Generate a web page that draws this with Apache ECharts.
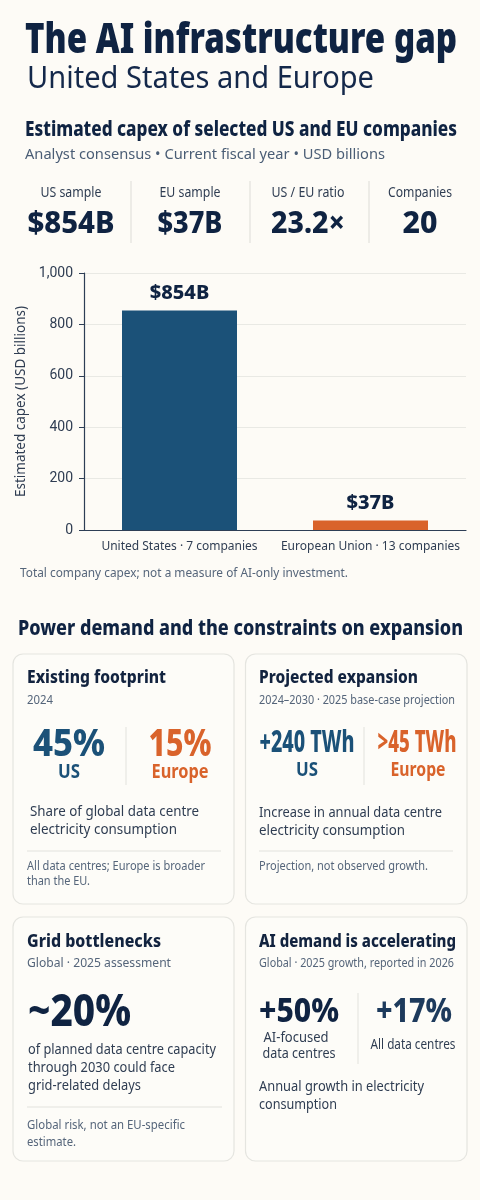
<!DOCTYPE html>
<html>
<head>
<meta charset="utf-8">
<title>The AI infrastructure gap</title>
<script src="https://cdn.jsdelivr.net/npm/echarts@6/dist/echarts.min.js"></script>
<style>
  html, body { margin: 0; padding: 0; background: #fdfbf6; }
  #chart { width: 480px; height: 1200px; }
</style>
</head>
<body>
<div id="chart"></div>
<script>
// chart data
const categories = ['United States · 7 companies', 'European Union · 13 companies'];
const capexValues = [854, 37];
const capexLabels = ['$854B', '$37B'];
const barColors = ['#1b5178', '#d9632b'];
const kpiLabels = ['US sample', 'EU sample', 'US / EU ratio', 'Companies'];
const kpiValues = ['$854B', '$37B', '23.2×', '20'];

const FONT = '"Noto Sans", sans-serif';
const NAVY = '#0f2342';
const BLUE = '#1b5178';
const ORANGE = '#d9632b';
const BODY = '#2f3d52';
const MUTED = '#55657a';

const measureCtx = document.createElement('canvas').getContext('2d');

// y is the text baseline, w squeezes the text to the width it has in the reference
function txt(str, x, y, size, weight, color, w, align) {
    measureCtx.font = weight + ' ' + size + 'px ' + FONT;
    let sx = w ? w / measureCtx.measureText(str).width : 1;
    return {
        type: 'text',
        x: x,
        y: y - size * 0.28,
        scaleX: sx,
        silent: true,
        style: {
            text: str,
            font: weight + ' ' + size + 'px ' + FONT,
            fill: color,
            align: align || 'left',
            verticalAlign: 'middle'
        }
    };
}

function rule(x1, y1, x2, y2, color) {
    return {
        type: 'line',
        silent: true,
        shape: {x1: x1, y1: y1, x2: x2, y2: y2},
        style: {stroke: color || '#e2e2dd', lineWidth: 1}
    };
}

function card(x, y, w, h) {
    return {
        type: 'rect',
        silent: true,
        shape: {x: x, y: y, width: w, height: h, r: 10},
        style: {fill: '#fdfcf8', stroke: '#e5e5e0', lineWidth: 1.2}
    };
}

let els = [];

// header
els.push(txt('The AI infrastructure gap', 25, 53, 43, 900, NAVY, 432));
els.push(txt('United States and Europe', 27, 88, 31, 400, '#14284a', 347));
els.push(txt('Estimated capex of selected US and EU companies', 25, 136, 21, 800, NAVY, 432));
els.push(txt('Analyst consensus • Current fiscal year • USD billions', 25, 159, 15, 400, '#4a5d75', 360));

// kpi strip
const kpiX = [71, 190, 308, 420];
const kpiLabelW = [61, 61, 73, 64];
const kpiValueW = [87, 65, 74, 35];
kpiLabels.forEach(function (label, i) {
    els.push(txt(label, kpiX[i], 197, 13.5, 400, BODY, kpiLabelW[i], 'center'));
    els.push(txt(kpiValues[i], kpiX[i], 233, 30, 800, NAVY, kpiValueW[i], 'center'));
});
[131, 250, 369].forEach(function (x) {
    els.push(rule(x, 181, x, 243, '#dddcd7'));
});

els.push(txt('Total company capex; not a measure of AI-only investment.', 20, 577, 13, 400, MUTED, 328));
els.push(txt('Power demand and the constraints on expansion', 18, 635, 22, 800, NAVY, 445));

// cards
els.push(card(13, 654, 221, 250), card(245.5, 654, 221.5, 250), card(13, 917, 221, 244), card(245.5, 917, 221.5, 244));

// existing footprint
els.push(txt('Existing footprint', 27, 683, 18, 800, '#12233f', 139));
els.push(txt('2024', 27, 704, 12, 400, MUTED, 26));
els.push(txt('45%', 69, 756, 37, 800, BLUE, 72, 'center'));
els.push(txt('US', 69, 778, 19, 700, BLUE, 22, 'center'));
els.push(txt('15%', 180, 756, 37, 800, ORANGE, 63, 'center'));
els.push(txt('Europe', 180, 778, 19, 700, ORANGE, 57, 'center'));
els.push(rule(126, 727, 126, 785));
els.push(txt('Share of global data centre', 30, 816, 14.5, 400, BODY, 169));
els.push(txt('electricity consumption', 30, 834, 14.5, 400, BODY, 147));
els.push(rule(27, 851, 221, 851));
els.push(txt('All data centres; Europe is broader', 27, 870, 12.5, 400, MUTED, 178));
els.push(txt('than the EU.', 27, 885, 12.5, 400, MUTED, 63));

// projected expansion
els.push(txt('Projected expansion', 259, 683, 18, 800, '#12233f', 159));
els.push(txt('2024–2030 · 2025 base-case projection', 259, 704, 12, 400, MUTED, 196));
els.push(txt('+240 TWh', 307, 752, 30, 800, BLUE, 95, 'center'));
els.push(txt('US', 307, 776, 19, 700, BLUE, 22, 'center'));
els.push(txt('>45 TWh', 417, 752, 30, 800, ORANGE, 79, 'center'));
els.push(txt('Europe', 418, 776, 19, 700, ORANGE, 55, 'center'));
els.push(rule(364, 727, 364, 785));
els.push(txt('Increase in annual data centre', 259, 817, 14.5, 400, BODY, 183));
els.push(txt('electricity consumption', 259, 835, 14.5, 400, BODY, 146));
els.push(rule(259, 851, 453, 851));
els.push(txt('Projection, not observed growth.', 259, 870, 12.5, 400, MUTED, 169));

// grid bottlenecks
els.push(txt('Grid bottlenecks', 27, 947, 18, 800, '#12233f', 134));
els.push(txt('Global · 2025 assessment', 27, 967, 13, 400, MUTED, 144));
els.push(txt('~20%', 28, 1026, 44, 800, NAVY, 103));
els.push(txt('of planned data centre capacity', 28, 1054, 14.5, 400, BODY, 188));
els.push(txt('through 2030 could face', 28, 1072, 14.5, 400, BODY, 147));
els.push(txt('grid-related delays', 28, 1090, 14.5, 400, BODY, 113));
els.push(rule(27, 1107, 222, 1107));
els.push(txt('Global risk, not an EU-specific', 27, 1129, 12.5, 400, MUTED, 158));
els.push(txt('estimate.', 27, 1146, 12.5, 400, MUTED, 49));

// ai demand
els.push(txt('AI demand is accelerating', 259, 947, 18, 800, '#12233f', 197));
els.push(txt('Global · 2025 growth, reported in 2026', 259, 967, 12.5, 400, MUTED, 195));
els.push(txt('+50%', 299, 1022, 33, 800, NAVY, 80, 'center'));
els.push(txt('+17%', 414, 1022, 33, 800, '#1d3a5c', 76, 'center'));
els.push(txt('AI-focused', 296, 1042, 14, 400, BODY, 65, 'center'));
els.push(txt('data centres', 299, 1058, 14, 400, BODY, 73, 'center'));
els.push(txt('All data centres', 413, 1049, 13.5, 400, BODY, 85, 'center'));
els.push(rule(358, 993, 358, 1064));
els.push(txt('Annual growth in electricity', 259, 1091, 14.5, 400, BODY, 165));
els.push(txt('consumption', 259, 1109, 14.5, 400, BODY, 78));

let myChart = echarts.init(document.getElementById('chart'), null, {width: 480, height: 1200});

myChart.setOption({
    backgroundColor: '#fdfbf6',
    animation: false,
    textStyle: {fontFamily: FONT},
    graphic: {elements: els},
    grid: {left: 84, right: 14, top: 273, height: 257, containLabel: false},
    xAxis: {
        type: 'category',
        data: categories,
        axisTick: {show: false},
        axisLine: {lineStyle: {color: '#2d3e55', width: 1.2}},
        axisLabel: {color: BODY, fontSize: 12, margin: 11, interval: 0, fontFamily: FONT}
    },
    yAxis: {
        type: 'value',
        min: 0,
        max: 1000,
        interval: 200,
        name: 'Estimated capex (USD billions)',
        nameLocation: 'middle',
        nameGap: 53,
        nameTextStyle: {color: BODY, fontSize: 13.5, fontFamily: FONT},
        axisLine: {show: true, lineStyle: {color: '#2d3e55', width: 1.2}},
        axisTick: {show: true, length: 5, lineStyle: {color: '#2d3e55'}},
        axisLabel: {
            color: BODY,
            fontSize: 14,
            margin: 11,
            fontFamily: 'Roboto, sans-serif',
            formatter: function (v) { return v.toLocaleString('en-US'); }
        },
        splitLine: {lineStyle: {color: '#e9e9e4', width: 1}}
    },
    series: [{
        type: 'bar',
        barWidth: 115,
        data: capexValues.map(function (v, i) {
            return {value: v, itemStyle: {color: barColors[i]}};
        }),
        label: {
            show: true,
            position: 'top',
            distance: 7,
            color: NAVY,
            fontSize: 20,
            fontWeight: 800,
            fontFamily: FONT,
            formatter: function (p) { return capexLabels[p.dataIndex]; }
        }
    }]
});
</script>
</body>
</html>
